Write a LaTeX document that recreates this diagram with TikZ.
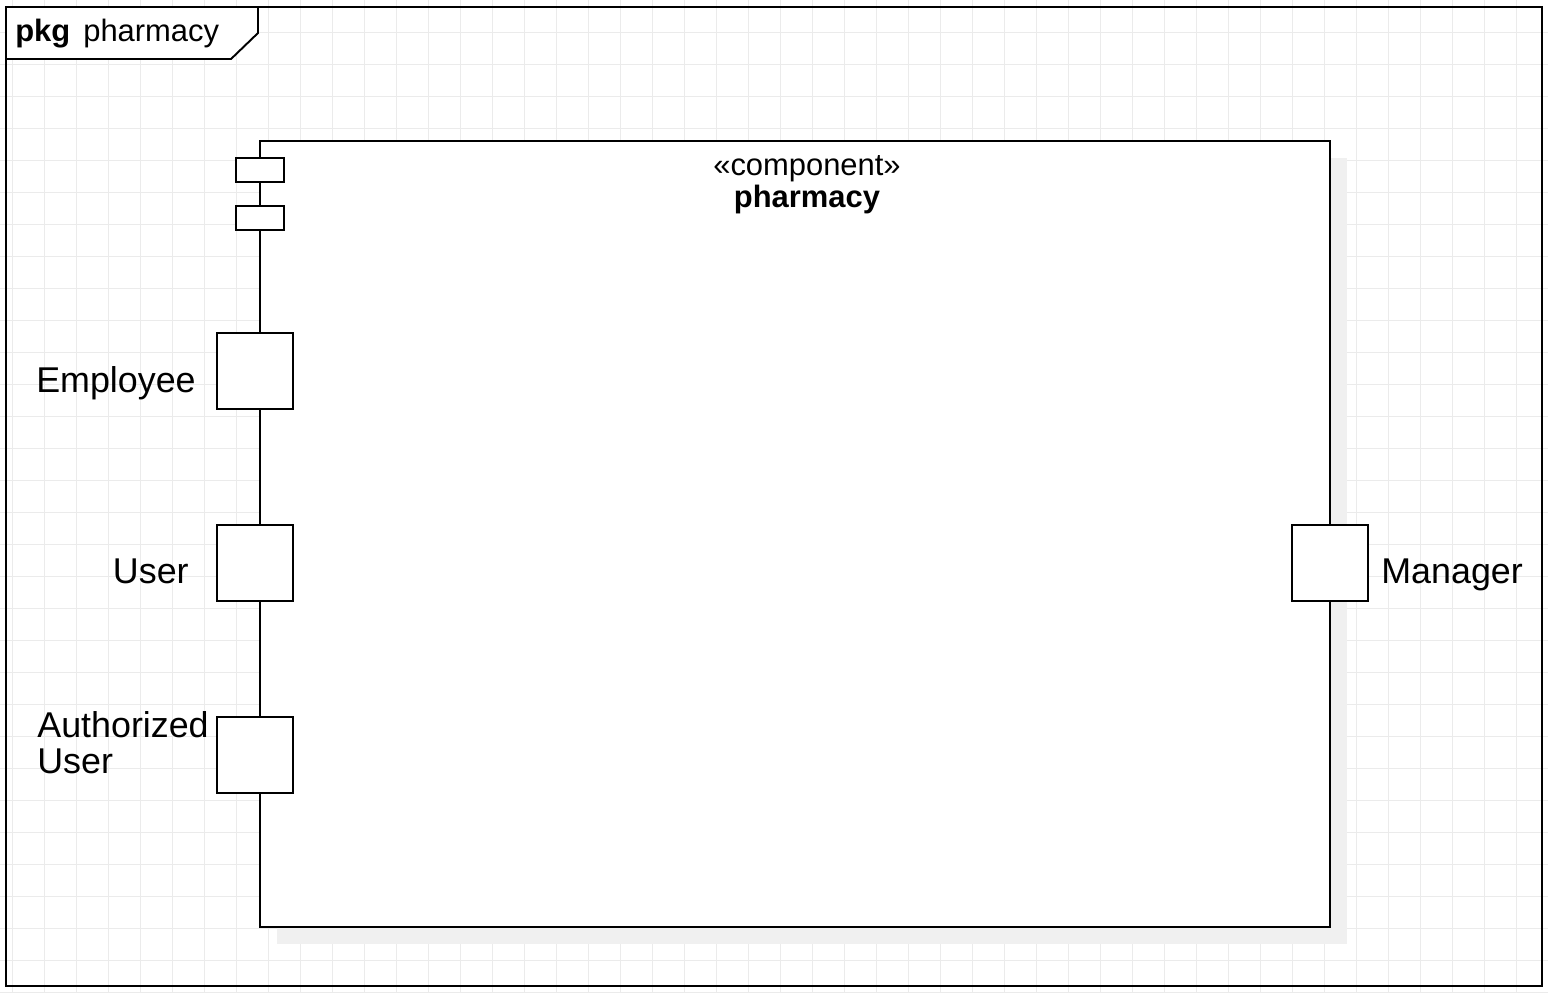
\documentclass[tikz,border=0pt]{standalone}
\usepackage{fontspec}
\setmainfont{Liberation Sans}
\definecolor{gridgray}{HTML}{EBEBEB}
\definecolor{shadowgray}{HTML}{F0F0F0}
\begin{document}
\begin{tikzpicture}[x=0.02cm, y=-0.02cm,
    umlline/.style={line width=1.1pt, draw=black},
    port/.style={umlline, fill=white, minimum width=1.52cm, minimum height=1.52cm, inner sep=0pt},
    tabbox/.style={umlline, fill=white, minimum width=0.96cm, minimum height=0.48cm, inner sep=0pt},
    portlabel/.style={inner sep=0pt, font=\fontsize{20.4}{20.5}\selectfont},
    titletext/.style={inner sep=0pt, font=\fontsize{17.6}{18}\selectfont}]

    \useasboundingbox (0,0) rectangle (1548,992);
    \fill[white] (0,0) rectangle (1548,992);
    \foreach \i in {0,...,48}
        \draw[gridgray, line width=0.55pt] ({12.3+32*\i},0) -- ({12.3+32*\i},992);
    \foreach \j in {1,...,31}
        \draw[gridgray, line width=0.55pt] (0,{32*\j}) -- (1548,{32*\j});

    \node[umlline, minimum width=30.72cm, minimum height=19.58cm, inner sep=0pt] (pkgframe) at (774,496.5) {};
    \draw[umlline, fill=white] (6,7) -- (258,7) -- (258,33) -- (231,59) -- (6,59) -- cycle;
    \node[titletext, anchor=base west] (pkgkey) at (15,41) {\textbf{pkg}};
    \node[titletext, anchor=base west] (pkgname) at (83,41) {pharmacy};

    \fill[shadowgray] (277,158) rectangle (1347,944);
    \node[umlline, fill=white, minimum width=21.4cm, minimum height=15.72cm, inner sep=0pt] (comp) at (795,534) {};
    \node[titletext, anchor=base] (stereo) at (807,175) {«component»};
    \node[titletext, anchor=base] (compname) at (807,207) {\textbf{pharmacy}};

    \node[tabbox] (tabtop) at (260,170) {};
    \node[tabbox] (tabbot) at (260,218) {};

    \node[port] (employee) at (255,371) {};
    \node[port] (user) at (255,563) {};
    \node[port] (authuser) at (255,755) {};
    \node[port] (manager) at (1330,563) {};

    \node[portlabel, anchor=base east] (employeelbl) at (196,392) {Employee};
    \node[portlabel, anchor=base east] (userlbl) at (189,583) {User};
    \node[portlabel, anchor=base west, align=left] (authuserlbl) at (37,773) {Authorized\\User};
    \node[portlabel, anchor=base west] (managerlbl) at (1381,583) {Manager};

\end{tikzpicture}
\end{document}
